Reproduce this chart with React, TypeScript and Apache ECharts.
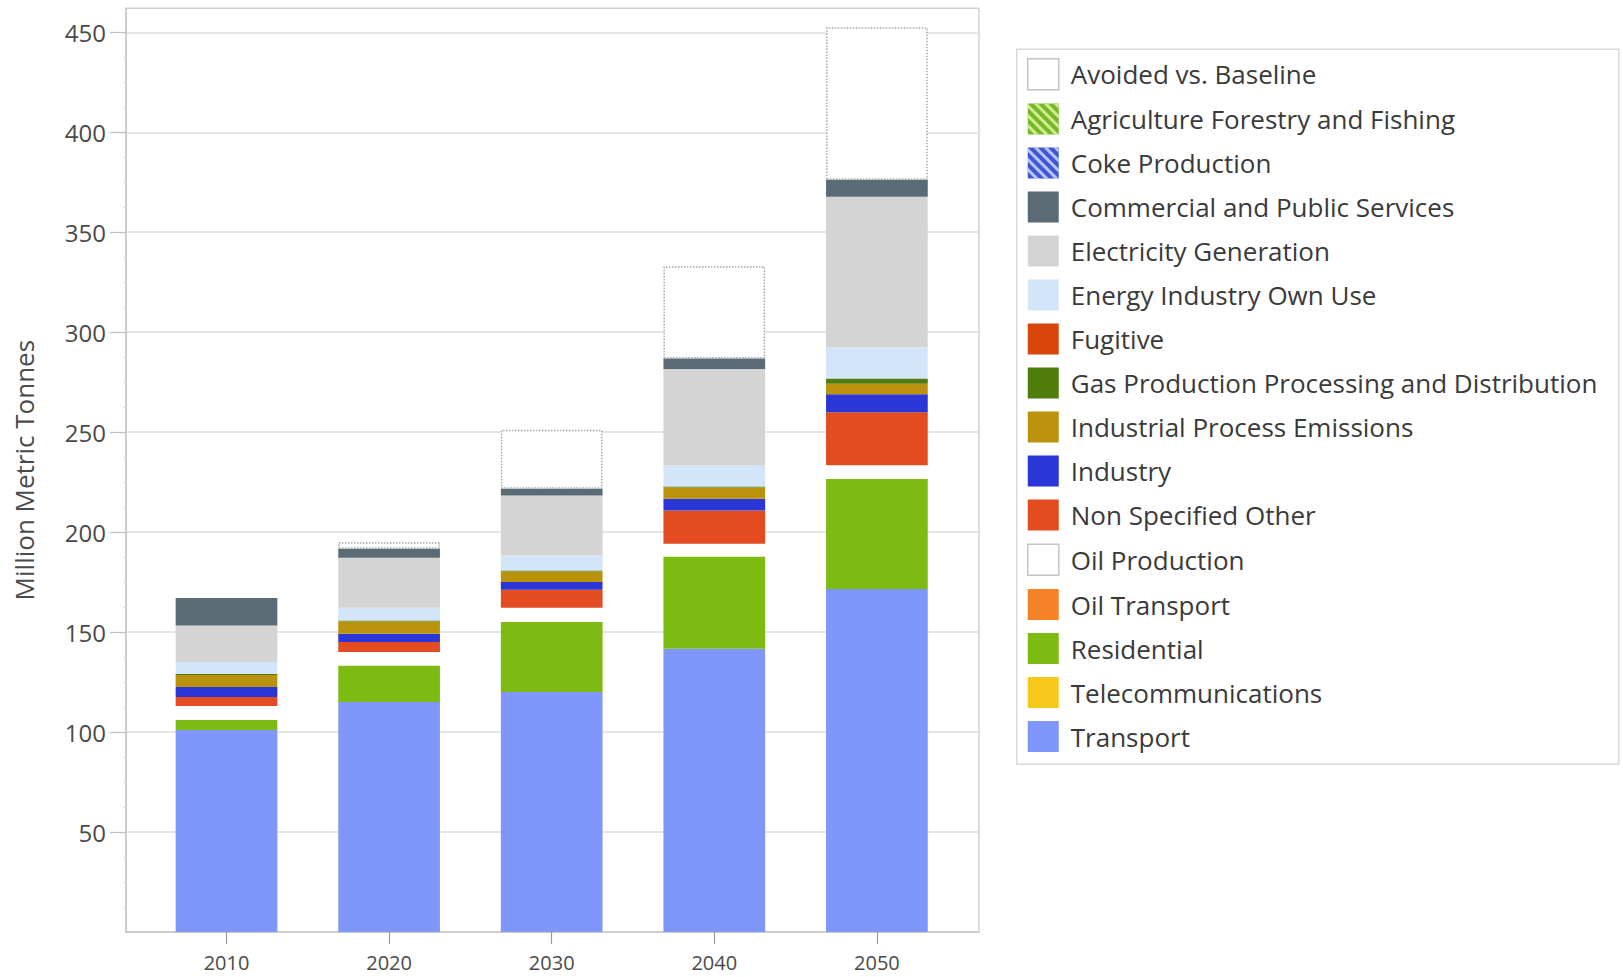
import React, { useEffect, useRef } from "react";
import * as echarts from "echarts";

const years = ["2010", "2020", "2030", "2040", "2050"];
const transport = [101, 115, 120, 141.7, 171.5];
const telecommunications = [0, 0, 0, 0, 0];
const residential = [5, 18.3, 35, 46.1, 55.1];
const oilTransport = [0, 0, 0, 0, 0];
const oilProduction = [7, 6.7, 7.2, 6.4, 6.9];
const nonSpecifiedOther = [4.5, 5, 9, 16.6, 26.5];
const industry = [5, 4.2, 3.8, 5.9, 8.9];
const industrialProcess = [6, 6.1, 5.3, 5.6, 5.3];
const gasProduction = [0.5, 0.5, 0.5, 0.5, 2.6];
const fugitive = [0, 0, 0, 0, 0];
const energyOwnUse = [6, 6.4, 7.5, 10.5, 15.7];
const electricity = [18.3, 25, 30, 48.3, 75.2];
const commercial = [13.7, 4.5, 3.4, 5.2, 8.5];
const cokeProduction = [0, 0, 0, 0, 0];
const agriculture = [0, 0, 0, 0, 0];
const avoided = [0, 3.3, 29.5, 46.2, 76.3];
const yTickValues = [50, 100, 150, 200, 250, 300, 350, 400, 450];
const yMax = 462;

const FONT = "'Open Sans', 'Noto Sans', sans-serif";

const hatch = (color: string) => ({
  symbol: "rect",
  symbolSize: 1,
  color,
  dashArrayX: [1, 0],
  dashArrayY: [3, 4],
  rotation: Math.PI / 4,
});

// bottom-to-top stacking order
const seriesDefs: { name: string; data: number[]; color: string; extra?: any; legendStyle?: any }[] = [
  { name: "Transport", data: transport, color: "#7f97fb" },
  { name: "Telecommunications", data: telecommunications, color: "#f7c81c" },
  { name: "Residential", data: residential, color: "#7dbb12" },
  { name: "Oil Transport", data: oilTransport, color: "#f58228" },
  {
    name: "Oil Production",
    data: oilProduction,
    color: "#ffffff",
    legendStyle: { color: "#ffffff", borderColor: "#c4c4c4", borderWidth: 1.5 },
  },
  { name: "Non Specified Other", data: nonSpecifiedOther, color: "#e34c20" },
  { name: "Industry", data: industry, color: "#2a36d6" },
  { name: "Industrial Process Emissions", data: industrialProcess, color: "#bb920c" },
  { name: "Gas Production Processing and Distribution", data: gasProduction, color: "#4f7d0c" },
  { name: "Fugitive", data: fugitive, color: "#d9460b" },
  { name: "Energy Industry Own Use", data: energyOwnUse, color: "#d3e5f8" },
  { name: "Electricity Generation", data: electricity, color: "#d4d4d4" },
  { name: "Commercial and Public Services", data: commercial, color: "#5b6b76" },
  {
    name: "Coke Production",
    data: cokeProduction,
    color: "#3f57d4",
    extra: { decal: hatch("rgba(200,210,255,0.9)") },
  },
  {
    name: "Agriculture Forestry and Fishing",
    data: agriculture,
    color: "#76b82a",
    extra: { decal: hatch("rgba(215,240,150,0.95)") },
  },
  {
    name: "Avoided vs. Baseline",
    data: avoided,
    color: "#ffffff",
    extra: { borderColor: "#a8a8a8", borderWidth: 1.5, borderType: "dotted" },
    legendStyle: { color: "#ffffff", borderColor: "#c4c4c4", borderWidth: 1.5 },
  },
];

export default function App() {
  const ref = useRef<HTMLDivElement>(null);

  useEffect(() => {
    if (!ref.current) return;
    const chart = echarts.init(ref.current, undefined, { renderer: "svg" });

    const frame = { left: 126, top: 8.3, width: 853, height: 923.7 };
    const bars = { left: 145.2, top: 8.3, width: 813, height: 923.7 };

    const option: any = {
      animation: false,
      backgroundColor: "#ffffff",
      textStyle: { fontFamily: FONT },
      grid: [
        { ...frame, show: true, borderColor: "#cfcfcf", borderWidth: 1.5, backgroundColor: "transparent" },
        { ...bars, show: false },
      ],
      xAxis: [
        {
          type: "value",
          gridIndex: 0,
          min: 0,
          max: 1,
          axisLine: { show: true, lineStyle: { color: "#c8c8c8", width: 1.5 } },
          axisTick: { show: false },
          axisLabel: { show: false },
          splitLine: { show: false },
        },
        {
          type: "category",
          gridIndex: 1,
          data: years,
          axisLine: { show: false },
          axisTick: { show: true, alignWithLabel: true, length: 12, lineStyle: { color: "#9a9a9a", width: 1.2 } },
          axisLabel: { fontSize: 20, color: "#4a4a4a", margin: 20, fontFamily: FONT },
          splitLine: { show: false },
        },
      ],
      yAxis: [
        {
          type: "value",
          gridIndex: 0,
          min: 0,
          max: yMax,
          interval: 50,
          name: "Million Metric Tonnes",
          nameLocation: "middle",
          nameGap: 89,
          nameTextStyle: { fontSize: 26, color: "#4a4a4a", fontFamily: FONT },
          axisLine: { show: true, lineStyle: { color: "#c8c8c8", width: 1.5 } },
          axisTick: { show: true, length: 16, customValues: yTickValues, lineStyle: { color: "#bdbdbd", width: 1.2 } },
          minorTick: { show: true, splitNumber: 4, length: 3, lineStyle: { color: "#e2e2e2" } },
          axisLabel: {
            customValues: yTickValues,
            fontSize: 24,
            color: "#4a4a4a",
            margin: 20,
            fontFamily: FONT,
          },
          splitLine: { show: true, lineStyle: { color: "#dcdcdc", width: 1.5 } },
        },
        {
          type: "value",
          gridIndex: 1,
          min: 0,
          max: yMax,
          show: false,
          splitLine: { show: false },
        },
      ],
      legend: {
        orient: "vertical",
        left: 1027,
        top: 58,
        padding: 0,
        itemWidth: 31,
        itemHeight: 31,
        itemGap: 13,
        icon: "rect",
        selectedMode: false,
        textStyle: { fontSize: 26, color: "#3a3a3a", fontFamily: FONT, padding: [0, 0, 0, 7] },
        data: seriesDefs
          .slice()
          .reverse()
          .map((s) => ({
            name: s.name,
            itemStyle: s.legendStyle
              ? s.legendStyle
              : { color: s.color, borderWidth: 0, ...(s.extra && s.extra.decal ? { decal: s.extra.decal } : {}) },
          })),
      },
      graphic: [
        {
          type: "rect",
          left: 1016,
          top: 48.5,
          shape: { width: 602, height: 715 },
          style: { fill: "#ffffff", stroke: "#dadada", lineWidth: 1.5 },
          z: -10,
          silent: true,
        },
      ],
      series: seriesDefs.map((s) => ({
        name: s.name,
        type: "bar",
        stack: "total",
        xAxisIndex: 1,
        yAxisIndex: 1,
        barWidth: 101.7,
        data: s.data.map((v) => (v === 0 ? "-" : v)),
        itemStyle: { color: s.color, borderWidth: 0, ...(s.extra || {}) },
        emphasis: { disabled: true },
      })),
    };

    chart.setOption(option);
    return () => chart.dispose();
  }, []);

  return (
    <div
      ref={ref}
      style={{ position: "fixed", left: 0, top: 0, width: 1623, height: 977, background: "#fff" }}
    />
  );
}
